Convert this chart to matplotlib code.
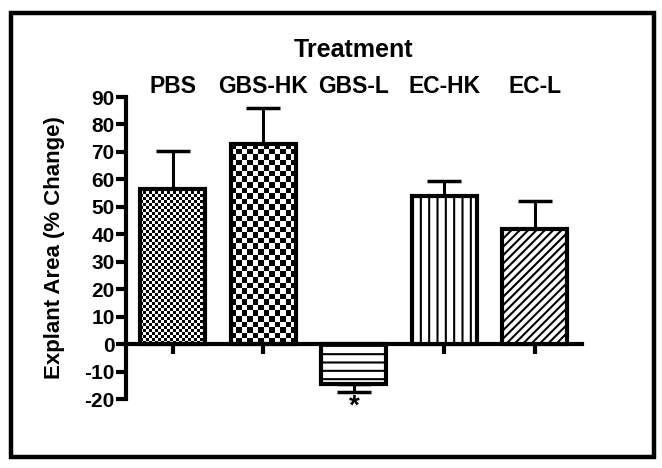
import matplotlib
matplotlib.use('Agg')
import matplotlib.pyplot as plt
import numpy as np
from matplotlib.patches import Rectangle

plt.rcParams['font.family'] = ['Liberation Sans', 'DejaVu Sans']
plt.rcParams['font.weight'] = 'bold'
plt.rcParams['hatch.linewidth'] = 1.5

groups = ["PBS", "GBS-HK", "GBS-L", "EC-HK", "EC-L"]
means = [56.5, 73.0, -14.5, 54.0, 42.0]
sem = [14.0, 13.0, 3.0, 5.5, 10.0]
hatches = [None, None, '--', '||', '////']
checker_px = [3.0, 5.5, None, None, None]   # checker cell size in pixels
y_ticks = list(range(-20, 91, 10))

fig = plt.figure(figsize=(6.62, 4.68), dpi=100)
ax = fig.add_axes([0.190, 0.1474, 0.689, 0.6453])

x = np.arange(len(groups))
faces = ['none' if c else 'white' for c in checker_px]
bars = ax.bar(x, means, width=0.72, color=faces, edgecolor='black',
              linewidth=3.0, zorder=3)
for b, h in zip(bars, hatches):
    if h:
        b.set_hatch(h)

# one-sided error bars (away from zero)
lower = [s if m < 0 else 0 for m, s in zip(means, sem)]
upper = [s if m >= 0 else 0 for m, s in zip(means, sem)]
ax.errorbar(x, means, yerr=[lower, upper], fmt='none', ecolor='black',
            elinewidth=2.2, capsize=12, capthick=2.5, zorder=2)

ax.set_xlim(-0.52, len(groups) - 0.48)
ax.set_ylim(-20, 90)
ax.set_yticks(y_ticks)
ax.set_yticklabels([str(t) for t in y_ticks], fontsize=15, fontweight='bold')

ax.spines['right'].set_visible(False)
ax.spines['top'].set_visible(False)
ax.spines['bottom'].set_position(('data', 0))
ax.spines['left'].set_linewidth(3)
ax.spines['bottom'].set_linewidth(3)

ax.set_xticks(x)
ax.set_xticklabels(groups, fontsize=16.5, fontweight='bold')
ax.tick_params(axis='x', bottom=True, top=False, labelbottom=False, labeltop=True,
               direction='out', length=7, width=3, pad=-7.5)
ax.tick_params(axis='y', direction='out', length=7, width=3, pad=1)
ax.xaxis.set_label_position('top')
ax.set_xlabel("Treatment", fontsize=18, fontweight='bold', labelpad=13)
ax.set_ylabel("Explant Area (% Change)", fontsize=16, fontweight='bold', labelpad=14)

# checkerboard fills clipped to their bars
fig.canvas.draw()
for b, cell in zip(bars, checker_px):
    if cell is None:
        continue
    bb = b.get_window_extent()
    nx = max(1, int(round(bb.width / cell)))
    ny = max(1, int(round(bb.height / cell)))
    img = (np.indices((ny, nx)).sum(axis=0) % 2).astype(float)
    x0, y0 = b.get_x(), b.get_y()
    im = ax.imshow(img, cmap='gray', vmin=0, vmax=1, interpolation='nearest',
                   extent=[x0, x0 + b.get_width(), y0, y0 + b.get_height()],
                   aspect='auto', zorder=2.5)
    im.set_clip_path(b)
ax.set_xlim(-0.52, len(groups) - 0.48)
ax.set_ylim(-20, 90)

# significance marker
gi = groups.index("GBS-L")
ax.text(x[gi], means[gi] - sem[gi] - 0.5, "*", ha='center', va='top',
        fontsize=20, fontweight='bold')

# outer frame
fig.patches.append(Rectangle((0.016, 0.024), 0.972, 0.948, transform=fig.transFigure,
                             fill=False, edgecolor='black', linewidth=3.2))

plt.savefig("out.png", dpi=100)
plt.close()
